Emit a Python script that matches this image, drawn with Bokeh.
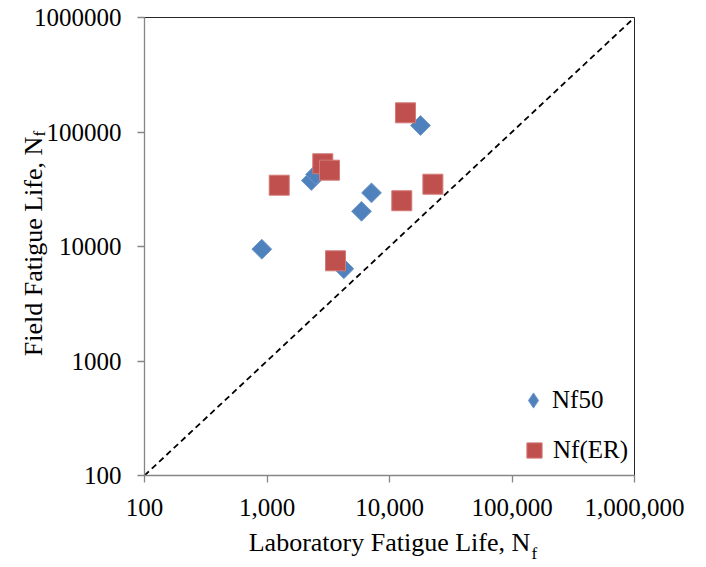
import math
from bokeh.plotting import figure
from bokeh.models import ColumnDataSource, FixedTicker, Label, Legend, LegendItem, Range1d
from bokeh.embed import file_html
from bokeh.resources import INLINE

# Data
lab_nf50 = [907, 2300, 2490, 7130, 5910, 4240, 17900]
field_nf50 = [9470, 37700, 42500, 29400, 20300, 6390, 114000]
lab_nfer = [1258, 2855, 3237, 3625, 12600, 13500, 22600]
field_nfer = [34300, 52800, 46400, 7500, 25100, 147000, 35000]
line_x = [100, 1000000]
line_y = [100, 1000000]
ticks = [100, 1000, 10000, 100000, 1000000]
x_tick_labels = ["100", "1,000", "10,000", "100,000", "1,000,000"]
y_tick_labels = ["100", "1000", "10000", "100000", "1000000"]

FONT = "Liberation Serif"
BLUE = "#4F81BD"
RED = "#C0504D"

p = figure(x_axis_type="log", y_axis_type="log",
           x_range=Range1d(100, 1000000), y_range=Range1d(100, 1000000),
           frame_width=490, frame_height=458,
           min_border_left=144, min_border_right=66, min_border_top=17, min_border_bottom=90,
           output_backend="svg", toolbar_location=None)
p.background_fill_color = "white"
p.border_fill_color = "white"
p.outline_line_color = "#262626"
p.outline_line_width = 1
p.xgrid.visible = False
p.ygrid.visible = False

for ax, labels in ((p.xaxis[0], x_tick_labels), (p.yaxis[0], y_tick_labels)):
    ax.ticker = FixedTicker(ticks=ticks, minor_ticks=[])
    ax.major_label_overrides = {t: l for t, l in zip(ticks, labels)}
    ax.axis_line_color = "#868686"
    ax.axis_line_width = 1.3
    ax.major_tick_line_color = "#868686"
    ax.major_tick_line_width = 1.3
    ax.major_tick_in = 0
    ax.major_tick_out = 7
    ax.minor_tick_line_color = None
    ax.major_label_text_font = FONT
    ax.major_label_text_font_size = "25px"
    ax.major_label_text_color = "black"
    ax.axis_label_text_font = FONT
    ax.axis_label_text_font_size = "26px"
    ax.axis_label_text_font_style = "normal"
    ax.axis_label_text_color = "black"
p.xaxis[0].major_label_standoff = 16
p.yaxis[0].major_label_standoff = 16
p.xaxis[0].axis_label = "Laboratory Fatigue Life, N"
p.yaxis[0].axis_label = "Field Fatigue Life, N"
p.xaxis[0].axis_label_standoff = 9
p.yaxis[0].axis_label_standoff = -17

p.line(line_x, line_y, line_color="black", line_width=1.8, line_dash="6 4")

src50 = ColumnDataSource(dict(x=lab_nf50, y=field_nf50))
srcer = ColumnDataSource(dict(x=lab_nfer, y=field_nfer))
r50 = p.scatter("x", "y", source=src50, marker="square", size=14, angle=math.pi / 4,
                fill_color=BLUE, line_color="#6F97C9", line_width=1)
rer = p.scatter("x", "y", source=srcer, marker="square", size=20,
                fill_color=RED, line_color="#D27A77", line_width=1)
# legend key for the diamonds (legend keys are drawn unrotated); hidden in the plot itself
r50_key = p.scatter("x", "y", source=src50, marker="diamond", visible=False,
                    fill_color=BLUE, line_color="#6F97C9", line_width=1)

leg_common = dict(orientation="vertical", label_standoff=0, padding=0, margin=0,
                  border_line_color=None, background_fill_alpha=0,
                  inactive_fill_alpha=0, click_policy="none",
                  label_text_font=FONT, label_text_font_size="25px", label_text_color="black")
legend_a = Legend(items=[LegendItem(label="Nf50", renderers=[r50_key])],
                  location=(370, 56), glyph_width=38, glyph_height=38, **leg_common)
legend_b = Legend(items=[LegendItem(label="Nf(ER)", renderers=[rer])],
                  location=(371, 6), glyph_width=38, glyph_height=38, **leg_common)
p.add_layout(legend_a)
p.add_layout(legend_b)

# subscript "f" of the axis titles (side-panel labels, positioned relative to their slot)
sub_common = dict(x_units="screen", y_units="screen", text_baseline="alphabetic",
                  text_font=FONT, text_color="black", text_font_size="17px", text_align="left")
p.add_layout(Label(x=-103, y=-78, text="f", **sub_common), "right")
p.add_layout(Label(x=-601, y=339, angle=math.pi / 2, text="f", **sub_common), "right")

open("out.html", "w").write(file_html(p, INLINE))
